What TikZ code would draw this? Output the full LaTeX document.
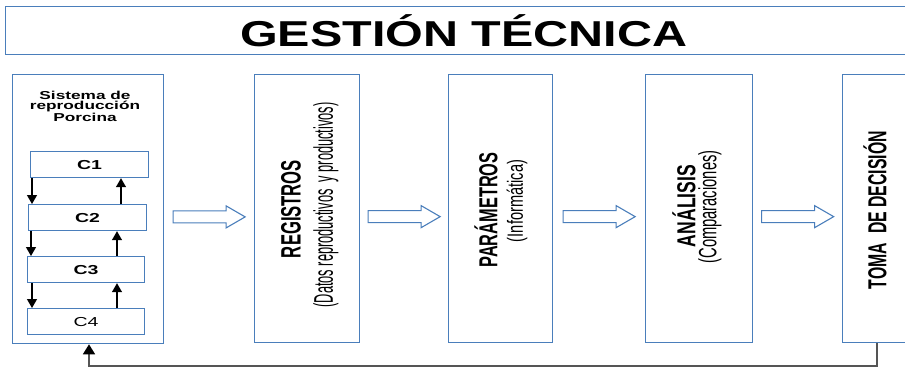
\documentclass[tikz,border=0pt]{standalone}
\usepackage{fontspec}
\setmainfont{Liberation Sans}
\usetikzlibrary{calc,arrows.meta}
\definecolor{boxblue}{RGB}{74,126,187}
\definecolor{loopgray}{RGB}{85,85,85}
% horizontally widened text
\newcommand\wide[1]{\scalebox{1.5}[1]{#1}}
% text squeezed to a given length, height kept
\newcommand\fitlen[2]{\resizebox{#1pt}{\height}{#2}}

\begin{document}
\begin{tikzpicture}[x=1pt,y=-1pt,
  frame/.style={draw=boxblue,line width=1.3pt,inner sep=0pt,anchor=north west,fill=white},
  cbox/.style={draw=boxblue,line width=1.2pt,inner sep=0pt,anchor=north west,
    minimum height=26pt,font=\fontsize{13}{13}\selectfont},
  vlabel/.style={rotate=90,inner sep=0pt},
  smallarr/.style={line width=1.2pt,-{Triangle[width=10pt,length=9pt]}},
  loopline/.style={draw=loopgray,line width=1.6pt,-{Triangle[width=12pt,length=10pt,fill=black,color=black]}},
  hollow/.pic={\draw[boxblue,line width=1.1pt,fill=white]
    (-36,-6) -- (17,-6) -- (17,-11) -- (36,0) -- (17,11) -- (17,6) -- (-36,6) -- cycle;}]
\useasboundingbox (0,0) rectangle (905,369);
\clip (0,0) rectangle (905,369);

% title banner
\node[frame,minimum width=916pt,minimum height=48pt,
  font=\fontsize{36}{38}\selectfont\bfseries] (title) at (5,6)
  {\fitlen{447}{GESTIÓN TÉCNICA}};

% process stages
\node[frame,minimum width=151pt,minimum height=269pt] (sys)  at (12,74) {};
\node[frame,minimum width=105pt,minimum height=268pt] (reg)  at (254,74) {};
\node[frame,minimum width=104pt,minimum height=268pt] (par)  at (448,74) {};
\node[frame,minimum width=107pt,minimum height=268pt] (ana)  at (645,74) {};
\node[frame,minimum width=110pt,minimum height=268pt] (toma) at (842,74) {};

% reproduction system contents
\node[align=center,inner sep=0pt,font=\fontsize{11.5}{10.5}\selectfont\bfseries] (systxt) at (85,106)
  {\wide{Sistema de}\\\wide{reproducción}\\\wide{Porcina}};
\node[cbox,minimum width=118pt] (c1) at (30,151) {\wide{\bfseries C1}};
\node[cbox,minimum width=118pt] (c2) at (28,204) {\wide{\bfseries C2}};
\node[cbox,minimum width=117pt] (c3) at (27,256) {\wide{\bfseries C3}};
\node[cbox,minimum width=117pt] (c4) at (27,308) {\wide{C4}};

\draw[smallarr] ($(c1.south west)+(2,0)$) -- ($(c2.north west)+(4,0)$);
\draw[smallarr] ($(c2.south west)+(3,0)$) -- ($(c3.north west)+(4,0)$);
\draw[smallarr] ($(c3.south west)+(5,0)$) -- ($(c4.north west)+(5,0)$);
\draw[smallarr] ($(c2.north west)+(93,0)$) -- ($(c1.south west)+(91,0)$);
\draw[smallarr] ($(c3.north west)+(90,0)$) -- ($(c2.south west)+(89,0)$);
\draw[smallarr] ($(c4.north west)+(90,0)$) -- ($(c3.south west)+(90,0)$);

% stage labels
\node[vlabel,font=\fontsize{28}{28}\selectfont\bfseries] (regt) at (291,209) {\fitlen{98}{REGISTROS}};
\node[vlabel,font=\fontsize{27}{27}\selectfont] (regs) at (326,205) {\fitlen{205}{(Datos reproductivos\ \ y productivos)}};
\node[vlabel,font=\fontsize{26}{26}\selectfont\bfseries] (part) at (486,210) {\fitlen{115}{PARÁMETROS}};
\node[vlabel,font=\fontsize{22}{22}\selectfont] (pars) at (517,201) {\fitlen{82}{(Informática)}};
\node[vlabel,font=\fontsize{26}{26}\selectfont\bfseries] (anat) at (684,206) {\fitlen{82}{ANÁLISIS}};
\node[vlabel,font=\fontsize{25}{25}\selectfont] (anas) at (710,207) {\fitlen{113}{(Comparaciones)}};
\node[vlabel,font=\fontsize{26}{26}\selectfont\bfseries] (tomat) at (875,210) {\fitlen{158}{TOMA\ \ DE DECISIÓN}};

% flow between stages
\path ($(sys.east)!.5!(reg.west)$) ++(0,8) pic {hollow};
\path ($(reg.east)!.5!(par.west)$) ++(0,8) pic {hollow};
\path ($(par.east)!.5!(ana.west)$) ++(0,8) pic {hollow};
\path ($(ana.east)!.5!(toma.west)$) ++(0,8) pic {hollow};

% feedback from decision to the system
\coordinate (fb) at (89,366);
\draw[loopline] ($(toma.south west)+(35,0)$) |- (fb) -- (fb |- sys.south);
\end{tikzpicture}
\end{document}
